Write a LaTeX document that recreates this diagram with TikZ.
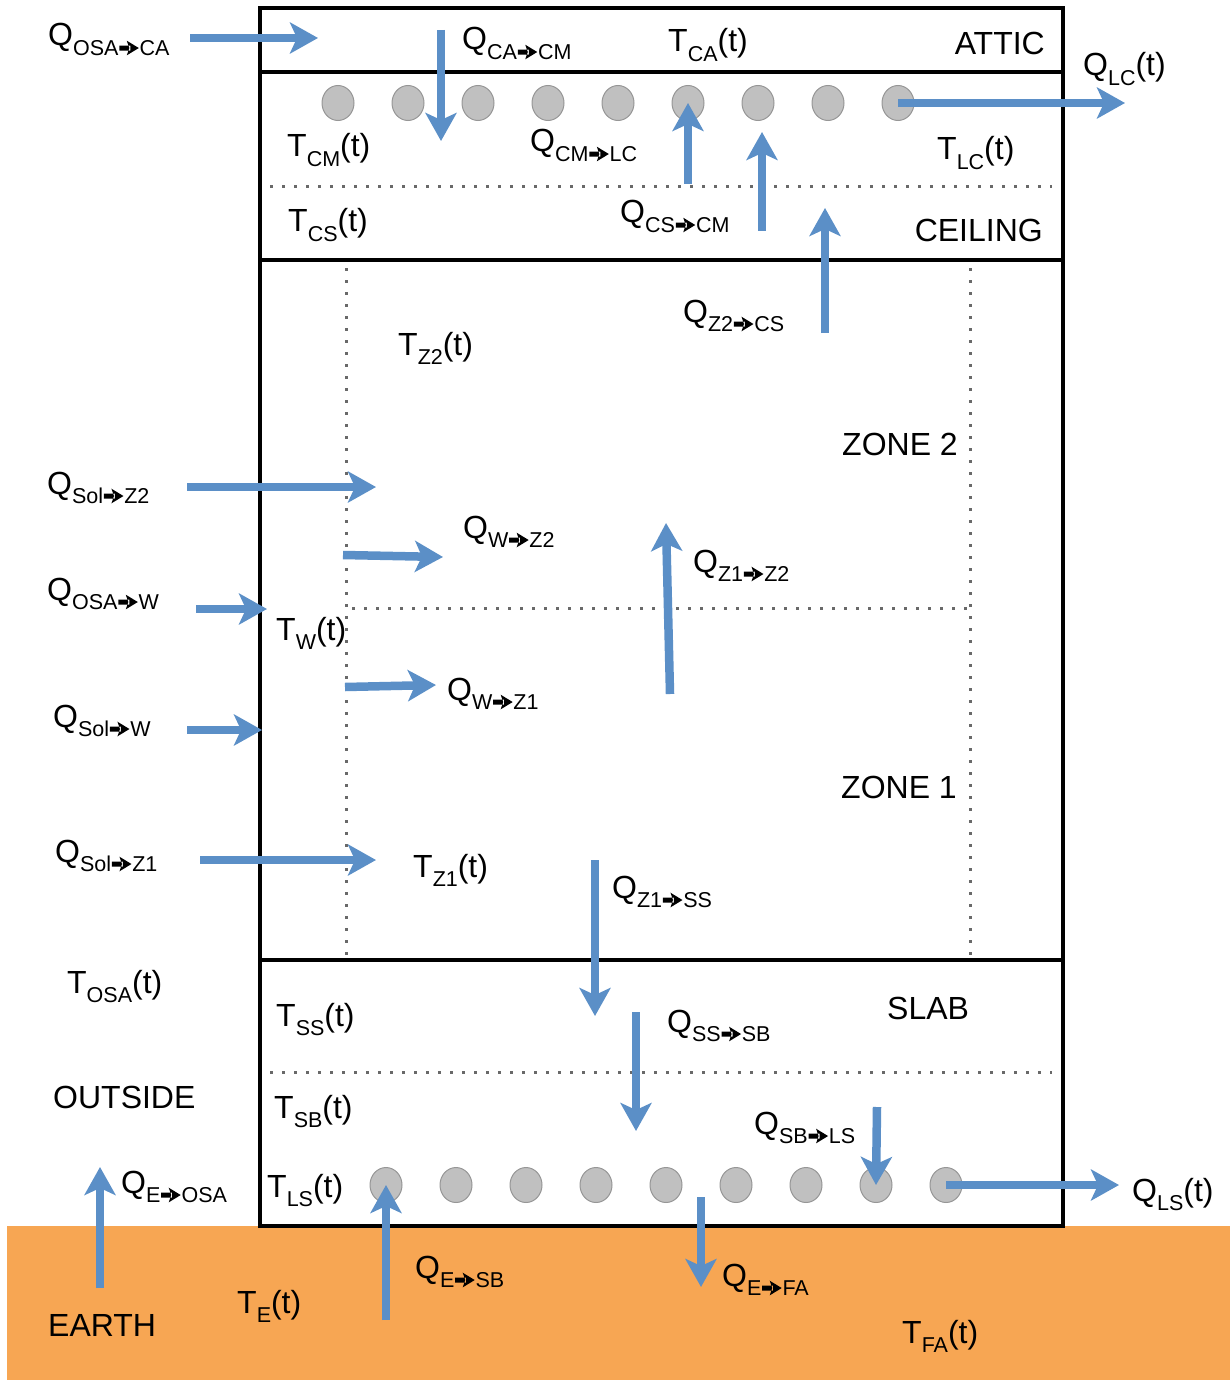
\documentclass[tikz,border=0pt]{standalone}
\usepackage{fontspec}
\setmainfont{Liberation Sans}
\usetikzlibrary{arrows.meta,shapes.geometric}
\definecolor{flowblue}{RGB}{91,143,199}
\definecolor{earthc}{RGB}{247,166,83}
\definecolor{pipefill}{RGB}{192,192,192}
\definecolor{pipeedge}{RGB}{150,150,150}
\definecolor{dotgray}{RGB}{105,105,105}
\newcommand\sbs[1]{\raisebox{-0.31em}{\fontsize{21.5}{22}\selectfont #1}}
\newcommand\rarr{\hspace{0.8pt}\tikz[x=1pt,y=1pt,baseline=0pt]{\fill[black] (0,5.4) rectangle (11,10.4) (7.5,0.6) -- (19.5,7.9) -- (7.5,15.2) -- (10,7.9) -- cycle;}\hspace{0.8pt}}
\newcommand\Qx[2]{Q\sbs{#1\rarr#2}}
\newcommand\Tx[1]{T\sbs{#1}(t)}
\tikzset{
  flow/.style={draw=flowblue, line width=8.5pt, -{Stealth[length=28pt,width=31pt,inset=7pt]}},
  wall/.style={draw=black, line width=3.5pt},
  dotline/.style={draw=dotgray, line width=3pt, dash pattern=on 3pt off 9pt},
  pipe/.style={ellipse, minimum width=32pt, minimum height=35pt, inner sep=0pt, fill=pipefill, draw=pipeedge, line width=1pt},
  lbl/.style={inner sep=0pt, anchor=base west, font=\fontsize{32}{38}\selectfont},
  lblr/.style={lbl, anchor=base east},
}
\begin{document}
\begin{tikzpicture}[x=1pt,y=-1pt]
\useasboundingbox (0,0) rectangle (1230,1380);
% earth
\fill[earthc] (7,1226) rectangle (1230,1380);
% building horizontal walls
\draw[wall] (260,72) -- (1063,72);
\draw[wall] (260,260) -- (1063,260);
\draw[wall] (260,960) -- (1063,960);
% dotted lines
\draw[dotline] (258,187) -- (1052,187);
\draw[dotline] (258,1072) -- (1052,1072);
\draw[dotline] (352,608) -- (970,608);
\draw[dotline] (346,268) -- (346,958);
\draw[dotline] (970,268) -- (970,958);
% pipes
\foreach \i in {0,...,8} {
  \node[pipe] (c\i) at (338+70*\i,103) {};
  \node[pipe] (b\i) at (386+70*\i,1185) {};
}
% outer box
\draw[wall, line join=miter] (260,8) rectangle (1063,1226);
% flows
\draw[flow] (190,38) -- (318,38);
\draw[flow] (441,30) -- (441,141);
\draw[flow] (c8.center) -- (1125,103);
\draw[flow] (688,184) -- (c5.center);
\draw[flow] (762,231) -- (762,132);
\draw[flow] (825,333) -- (825,208);
\draw[flow] (187,487) -- (376,487);
\draw[flow] (343,555) -- (443,557);
\draw[flow] (196,609) -- (267,609);
\draw[flow] (345,687) -- (436,685);
\draw[flow] (187,730) -- (262,730);
\draw[flow] (670,694) -- (666,523);
\draw[flow] (200,860) -- (376,860);
\draw[flow] (595,860) -- (595,1016);
\draw[flow] (636,1012) -- (636,1131);
\draw[flow] (877,1107) -- (b7.center);
\draw[flow] (b8.center) -- (1119,1185);
\draw[flow] (701,1197) -- (701,1287);
\draw[flow] (386,1320) -- (b0.center);
\draw[flow] (100,1288) -- (100,1167);
% labels
\node[lbl] (qosaca) at (48,46) {\Qx{OSA}{CA}};
\node[lbl] (qcacm) at (462,50) {\Qx{CA}{CM}};
\node[lbl] (tca) at (668,52) {\Tx{CA}};
\node[lblr] (attic) at (1045,55) {ATTIC};
\node[lbl] (qlc) at (1083,76) {Q\sbs{LC}(t)};
\node[lbl] (tcm) at (287,157) {\Tx{CM}};
\node[lbl] (qcmlc) at (530,152) {\Qx{CM}{LC}};
\node[lbl] (tlc) at (937,160) {\Tx{LC}};
\node[lbl] (tcs) at (288,232) {\Tx{CS}};
\node[lbl] (qcscm) at (620,223) {\Qx{CS}{CM}};
\node[lblr] (ceiling) at (1043,241) {CEILING};
\node[lbl] (qz2cs) at (683,322) {\Qx{Z2}{CS}};
\node[lbl] (tz2) at (398,355) {\Tx{Z2}};
\node[lblr] (zone2) at (958,455) {ZONE 2};
\node[lbl] (qsolz2) at (47,494) {\Qx{Sol}{Z2}};
\node[lbl] (qwz2) at (463,538) {\Qx{W}{Z2}};
\node[lbl] (qz1z2) at (693,572) {\Qx{Z1}{Z2}};
\node[lbl] (qosaw) at (47,600) {\Qx{OSA}{W}};
\node[lbl] (tw) at (276,640) {\Tx{W}};
\node[lbl] (qwz1) at (447,700) {\Qx{W}{Z1}};
\node[lbl] (qsolw) at (53,727) {\Qx{Sol}{W}};
\node[lblr] (zone1) at (957,798) {ZONE 1};
\node[lbl] (qsolz1) at (55,862) {\Qx{Sol}{Z1}};
\node[lbl] (tz1) at (413,877) {\Tx{Z1}};
\node[lbl] (qz1ss) at (612,898) {\Qx{Z1}{SS}};
\node[lbl] (tosa) at (67,993) {\Tx{OSA}};
\node[lbl] (tss) at (276,1026) {\Tx{SS}};
\node[lbl] (slab) at (887,1019) {SLAB};
\node[lbl] (qsssb) at (667,1032) {\Qx{SS}{SB}};
\node[lbl] (outside) at (53,1108) {OUTSIDE};
\node[lbl] (tsb) at (274,1118) {\Tx{SB}};
\node[lbl] (qsbls) at (754,1134) {\Qx{SB}{LS}};
\node[lbl] (qeosa) at (121,1193) {\Qx{E}{OSA}};
\node[lbl] (tls) at (267,1197) {\Tx{LS}};
\node[lbl] (qls) at (1132,1201) {Q\sbs{LS}(t)};
\node[lbl] (qesb) at (415,1278) {\Qx{E}{SB}};
\node[lbl] (te) at (237,1313) {\Tx{E}};
\node[lbl] (earthl) at (48,1336) {EARTH};
\node[lbl] (qefa) at (722,1286) {\Qx{E}{FA}};
\node[lbl] (tfa) at (902,1343) {\Tx{FA}};
\end{tikzpicture}
\end{document}
